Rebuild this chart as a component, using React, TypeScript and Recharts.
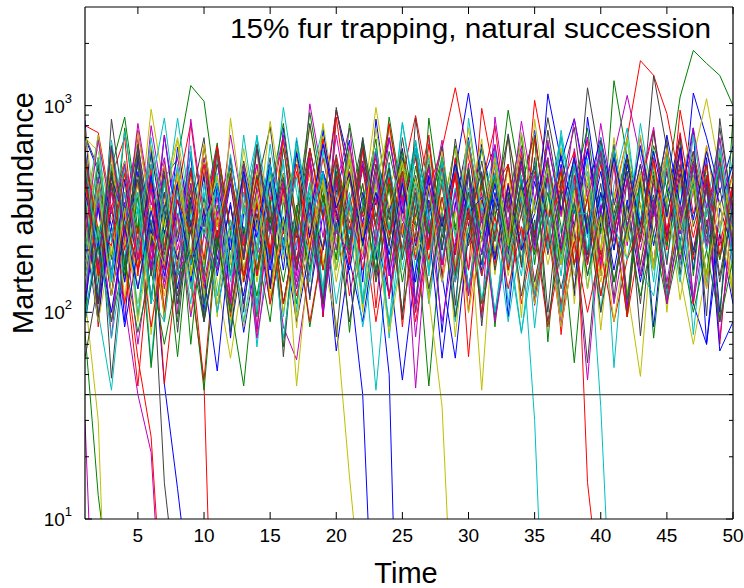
import React from 'react';
import { LineChart, Line, XAxis, YAxis, ReferenceLine } from 'recharts';

const BLUE = '#0000FF', GREEN = '#008000', RED = '#FF0000', CYAN = '#00BFBF', MAGENTA = '#BF00BF', YELLOW = '#BFBF00', GRAY = '#404040';

const times = Array.from({ length: 50 }, (_, i) => i + 1);
const xTicks = [5, 10, 15, 20, 25, 30, 35, 40, 45, 50];
const yTicks = [10, 20, 30, 40, 50, 60, 70, 80, 90, 100, 200, 300, 400, 500, 600, 700, 800, 900, 1000, 2000];
const yMajor = [10, 100, 1000];
const threshold = 40;

const b1 = [700,480,260,520,190,430,160,400,180,470,210,560,240,450,190,380,230,620,300,950,520,270,600,230,480,180,420,200,550,260,650,300,380,180,430,220,520,260,600,300,620,260,520,210,480,240,1150,700,380,640];
const b2 = [150,330,120,290,450,160,520,220,470,260,640,240,380,150,320,110,260,120,300,65,180,90,240,120,330,140,390,170,480,1150,420,640,250,540,230,460,200,420,180,380,160,350,140,330,120,260,110,70,240,110];
const b3 = [240,90,330,140,560,240,380,130,340,520,180,420,160,280,110,230,90,200,480,240,520,210,430,170,47,160,350,150,60,240,160,380,190,440,210,1140,540,865,390,700,330,580,260,520,230,470,200,420,65,90];
const b4 = [380,200,450,280,170,620,300,180,360,150,52,230,120,330,160,400,180,340,200,460,240,510,330,700,300,620,250,60,210,480,190,420,170,380,500,280,570,300,620,260,560,280,640,300,720,330,780,70,320,200];
const b5 = [90,220,100,260,130,310,150,350,170,280,420,200,480,230,520,250,590,290,650,320,470,220,380,190,420,210,460,260,520,300,360,180,410,200,300,650,310,560,240,480,200,520,260,600,290,620,280,600,330,520];
const b6 = [850,110,620,90,480,160,720,240,580,100,420,75,300,640,130,780,260,540,95,380,680,140,860,300,620,110,450,80,330,700,150,540,95,400,760,230,600,120,880,310,650,105,470,85,360,720,160,560,100,420];
const g1 = [320,150,500,240,520,160,450,550,1250,1050,350,500,140,360,130,290,110,340,160,420,210,500,180,400,140,330,120,310,150,380,170,460,210,540,240,470,190,400,170,380,200,520,260,640,400,1100,1850,1600,1400,1000];
const g2 = [550,230,500,880,300,54,250,61,280,120,330,150,430,200,520,68,300,925,380,180,440,210,520,250,600,270,44,240,520,230,620,280,950,410,720,72,380,170,420,190,1320,560,330,160,400,180,460,220,500,260];
const g3 = [200,420,180,520,240,600,280,420,160,42,230,110,44,200,90,350,160,420,200,480,220,520,260,600,300,660,320,560,260,480,220,460,210,500,240,540,260,57,300,640,280,560,240,480,210,440,190,400,180,380];
const g4 = [600,220,480,150,360,120,280,90,420,150,620,240,460,160,350,110,260,85,210,480,190,650,260,880,360,580,210,440,150,330,110,250,520,200,700,280,480,170,360,120,280,95,430,170,600,240,420,150,560,210];
const g5 = [100,210,90,180,80,160,70,150,200,90,230,100,260,120,290,140,330,160,370,180,820,350,160,420,200,510,240,560,250,500,220,460,200,420,190,380,170,340,150,300,140,260,120,240,110,220,100,200,90,180];
const g6 = [95,560,140,780,250,600,90,420,70,310,660,150,520,95,380,820,270,590,110,450,80,340,690,160,540,100,870,300,640,120,470,85,350,710,170,560,100,410,780,240,610,115,450,75,330,680,150,520,90,880];
const r1 = [800,740,320,540,220,480,200,420,180,360,160,330,140,300,130,270,120,240,330,950,450,300,560,240,480,220,400,620,1220,560,300,400,520,230,480,220,440,200,400,180,360,700,1650,1400,915,420,600,300,520,260];
const r2 = [260,120,380,170,44,230,100,300,140,47,250,110,330,160,420,200,480,230,560,260,640,290,380,170,450,895,400,240,480,61,350,170,420,200,1060,480,300,560,260,520,240,480,220,440,200,950,430,380,180,420];
const r3 = [420,150,580,220,760,300,520,180,390,130,290,95,230,520,200,690,270,470,160,360,120,270,90,230,480,180,650,260,450,160,970,440,330,110,250,85,200,460,170,620,250,430,150,340,110,450,180,640,260,480];
const r4 = [130,380,120,300,160,420,45,170,480,180,640,250,440,150,330,110,250,90,210,460,170,620,250,820,340,560,200,420,140,300,100,240,520,200,700,280,480,170,360,120,280,95,230,560,220,740,300,520,190,400];
const r5 = [560,250,210,470,180,400,160,350,240,520,230,480,210,440,190,400,170,620,280,560,250,500,220,450,200,400,180,360,160,320,150,290,130,260,120,240,110,220,100,200,90,180,260,540,250,500,230,460,210,420];
const r6 = [640,85,450,700,150,520,100,390,820,260,600,110,440,80,330,690,160,530,95,880,300,620,105,460,85,340,720,150,560,100,410,800,240,600,115,450,78,330,690,160,540,95,400,760,230,590,110,450,70,350];
const c1 = [240,100,42,180,380,57,300,870,320,160,380,180,440,68,250,980,380,180,420,200,470,230,42,210,830,350,160,360,170,400,190,440,210,79,260,500,240,540,260,580,54,330,620,290,560,260,500,230,460,210];
const c2 = [380,120,520,160,640,210,480,110,300,90,560,180,720,260,430,95,330,140,610,220,380,110,260,85,470,160,700,240,520,130,330,100,290,150,540,210,760,300,480,150,620,230,820,330,540,170,450,140,620,260];
const c3 = [160,460,120,380,95,280,140,520,190,640,230,150,380,110,300,75,220,420,130,560,200,700,260,480,160,370,110,300,90,260,150,590,220,740,310,500,180,420,130,360,250,680,280,500,180,420,120,330,240,560];
const c4 = [520,190,680,260,380,120,90,300,110,420,160,580,220,720,300,520,170,380,120,560,240,330,620,250,820,330,560,180,400,130,300,100,240,80,200,420,150,560,230,700,280,480,160,120,340,140,460,200,620,260];
const c5 = [90,260,75,190,320,110,440,150,600,230,420,140,330,100,520,210,700,280,480,160,360,110,250,90,200,420,160,560,230,680,300,470,170,360,120,300,100,520,200,640,260,180,400,140,560,200,720,290,510,180];
const c6 = [300,720,150,540,95,400,870,280,640,110,470,82,340,700,160,550,100,420,790,240,610,115,450,75,320,680,150,520,92,870,300,630,108,460,84,340,710,165,555,100,415,780,245,605,118,452,78,330,690,150];
const m1 = [180,400,160,380,170,800,320,560,240,480,210,440,190,400,170,440,200,1020,440,260,520,240,480,220,440,43,300,140,340,160,380,180,420,200,460,220,500,240,47,260,580,1120,560,300,620,280,560,260,500,230];
const m2 = [300,110,400,140,560,200,720,280,500,170,360,120,520,190,260,85,59,170,480,200,640,260,450,150,320,100,230,520,190,680,290,520,180,410,140,300,100,620,250,820,330,560,200,420,140,330,110,280,90,220];
const m3 = [120,340,90,260,70,200,140,430,170,560,220,720,310,520,180,390,130,300,100,450,180,620,260,800,330,560,210,420,140,680,280,460,160,340,110,250,85,200,400,150,520,210,700,290,500,180,390,130,470,200];
const m4 = [450,160,620,230,820,330,560,200,420,140,310,100,240,75,190,420,160,560,230,720,300,180,480,150,360,110,280,90,220,500,190,650,260,840,350,560,210,450,150,330,110,260,460,170,620,240,780,320,540,200];
const m5 = [230,680,300,520,180,400,130,300,95,240,160,460,180,620,240,430,140,330,110,250,190,540,210,700,280,200,500,170,380,120,290,90,230,520,200,680,290,860,360,600,220,440,150,350,110,270,520,210,700,280];
const m6 = [110,450,75,330,690,160,540,98,860,290,630,110,460,83,350,720,150,560,100,410,780,230,600,116,445,76,320,680,155,525,94,880,305,640,108,470,86,345,705,168,550,102,420,785,245,600,114,448,74,325];
const y1 = [700,600,280,520,240,960,400,700,300,560,260,480,220,440,200,400,180,360,170,340,160,320,980,400,620,280,540,240,480,210,440,200,400,180,360,170,330,150,300,140,280,130,49,300,620,280,560,1080,480,260];
const y2 = [90,220,100,240,110,260,120,280,130,300,140,60,160,340,180,380,44,200,420,220,460,240,500,260,540,280,580,300,620,320,42,340,680,360,500,240,460,220,420,200,380,180,340,160,300,150,70,160,260,120];
const y3 = [400,140,560,210,740,300,520,170,370,120,280,90,220,480,180,640,260,800,330,560,200,420,140,320,100,240,180,460,170,630,250,450,150,340,110,260,85,200,400,150,560,220,720,300,520,190,400,130,580,230];
const y4 = [250,720,300,530,190,400,130,300,100,230,460,170,620,250,840,340,560,200,420,140,310,105,240,80,190,440,170,600,240,780,320,520,180,390,130,300,95,250,520,200,700,280,480,160,360,115,280,640,260,460];
const y5 = [150,420,120,320,90,240,170,480,190,650,260,480,160,370,120,280,95,220,440,160,600,230,780,320,540,190,410,140,310,100,230,560,210,740,300,500,170,390,130,290,90,240,460,170,620,250,450,150,350,120];
const y6 = [780,230,600,115,450,78,330,680,150,530,95,870,300,630,108,465,84,345,710,160,550,100,415,790,240,610,114,450,76,325,690,152,520,94,860,295,625,110,460,82,340,700,165,550,100,420,780,240,600,118];
const k1 = [715,500,230,480,210,440,190,400,170,360,160,330,150,300,140,280,130,260,120,980,430,300,620,280,560,250,500,230,460,210,420,190,380,170,340,875,400,250,1220,520,300,560,260,1400,620,300,540,260,480,220];
const k2 = [200,440,48,220,460,210,480,230,500,240,520,250,540,260,560,61,300,620,290,580,270,540,250,500,230,460,210,420,190,380,170,340,160,300,140,280,130,260,57,300,560,260,520,240,480,220,440,200,400,180];
const k3 = [60,140,420,160,580,220,380,120,280,95,210,480,180,650,270,470,160,360,115,270,90,220,520,210,700,290,510,170,390,130,300,95,240,560,220,760,310,540,190,420,140,330,110,460,170,630,260,440,150,340];
const k4 = [330,110,480,170,650,260,450,150,340,110,250,80,200,460,180,620,250,820,340,560,200,420,140,320,100,240,520,200,690,280,480,160,360,120,280,90,230,510,190,680,280,480,170,370,130,290,600,240,780,310];
const k5 = [480,170,640,250,440,150,330,110,250,90,200,470,180,630,250,450,160,340,110,520,210,700,290,500,180,380,130,290,95,230,540,220,730,300,510,190,390,130,300,100,240,560,220,740,300,520,190,400,140,330];
const k6 = [520,95,860,300,620,110,460,80,340,700,160,550,100,410,790,240,600,115,450,76,330,680,150,530,92,870,300,640,108,470,86,350,715,165,560,100,418,785,242,608,116,448,77,328,688,152,522,96,866,296];

// runs that go extinct (value collapses below the axis floor, then nothing)
const e1 = [30, 0.7];
const e2 = [80, 13, 4];
const e3 = [120, 30, 0.5];
const e4 = [200, 450, 190, 110, 40, 21, 1.8];
const e5 = [350, 160, 420, 180, 60, 25, 2.5];
const e6 = [250, 520, 230, 480, 160, 250, 15, 4];
const e7 = [160, 360, 150, 340, 130, 280, 45, 14, 4];
const e8 = [500, 220, 460, 200, 420, 180, 380, 160, 200, 45, 0.3];
const e9 = [220,560,190,420,130,320,95,240,450,170,620,250,430,140,330,100,250,480,180,90,16,3.5];
const e10 = [340,110,260,85,200,460,170,630,260,450,150,340,110,260,520,200,680,270,480,300,150,40,1.26];
const e11 = [110,320,120,440,170,600,240,420,140,320,100,240,80,190,430,160,580,230,760,310,160,380,200,50,0.23];
const e12 = [270,90,210,480,170,640,260,450,150,340,110,260,85,200,460,180,620,250,820,330,540,190,420,230,300,260,120,35,1.5];
const e13 = [190,560,220,750,300,520,180,390,130,290,100,230,480,180,650,260,450,150,340,110,260,85,200,470,180,620,250,430,140,330,240,560,210,250,30,0.78];
const e14 = [440,150,330,110,260,85,210,480,180,640,260,450,150,340,110,250,520,200,690,280,480,160,360,120,270,90,220,500,190,660,270,470,160,350,120,280,400,600,15,4];
const e15 = [130,380,140,520,200,700,290,500,170,380,120,280,90,220,490,190,660,270,460,160,350,110,260,520,200,680,280,480,160,360,115,270,90,230,520,200,700,300,300,35,1.5];

const series: { id: string; color: string; values: number[] }[] = [
  { id: 'e1', color: MAGENTA, values: e1 },
  { id: 'b1', color: BLUE, values: b1 },
  { id: 'g1', color: GREEN, values: g1 },
  { id: 'e2', color: GREEN, values: e2 },
  { id: 'r1', color: RED, values: r1 },
  { id: 'c1', color: CYAN, values: c1 },
  { id: 'e3', color: YELLOW, values: e3 },
  { id: 'm1', color: MAGENTA, values: m1 },
  { id: 'y1', color: YELLOW, values: y1 },
  { id: 'k1', color: GRAY, values: k1 },
  { id: 'b6', color: BLUE, values: b6 },
  { id: 'e4', color: MAGENTA, values: e4 },
  { id: 'b2', color: BLUE, values: b2 },
  { id: 'g2', color: GREEN, values: g2 },
  { id: 'e5', color: RED, values: e5 },
  { id: 'r2', color: RED, values: r2 },
  { id: 'g6', color: GREEN, values: g6 },
  { id: 'c2', color: CYAN, values: c2 },
  { id: 'e6', color: GRAY, values: e6 },
  { id: 'm2', color: MAGENTA, values: m2 },
  { id: 'y2', color: YELLOW, values: y2 },
  { id: 'r6', color: RED, values: r6 },
  { id: 'e7', color: BLUE, values: e7 },
  { id: 'k2', color: GRAY, values: k2 },
  { id: 'b3', color: BLUE, values: b3 },
  { id: 'e8', color: RED, values: e8 },
  { id: 'g3', color: GREEN, values: g3 },
  { id: 'c6', color: CYAN, values: c6 },
  { id: 'r3', color: RED, values: r3 },
  { id: 'e9', color: YELLOW, values: e9 },
  { id: 'c3', color: CYAN, values: c3 },
  { id: 'm3', color: MAGENTA, values: m3 },
  { id: 'm6', color: MAGENTA, values: m6 },
  { id: 'e10', color: BLUE, values: e10 },
  { id: 'y3', color: YELLOW, values: y3 },
  { id: 'k3', color: GRAY, values: k3 },
  { id: 'e11', color: BLUE, values: e11 },
  { id: 'y6', color: YELLOW, values: y6 },
  { id: 'b4', color: BLUE, values: b4 },
  { id: 'g4', color: GREEN, values: g4 },
  { id: 'e12', color: YELLOW, values: e12 },
  { id: 'r4', color: RED, values: r4 },
  { id: 'k6', color: GRAY, values: k6 },
  { id: 'c4', color: CYAN, values: c4 },
  { id: 'e13', color: CYAN, values: e13 },
  { id: 'm4', color: MAGENTA, values: m4 },
  { id: 'y4', color: YELLOW, values: y4 },
  { id: 'e14', color: RED, values: e14 },
  { id: 'k4', color: GRAY, values: k4 },
  { id: 'b5', color: BLUE, values: b5 },
  { id: 'e15', color: CYAN, values: e15 },
  { id: 'g5', color: GREEN, values: g5 },
  { id: 'r5', color: RED, values: r5 },
  { id: 'c5', color: CYAN, values: c5 },
  { id: 'm5', color: MAGENTA, values: m5 },
  { id: 'y5', color: YELLOW, values: y5 },
  { id: 'k5', color: GRAY, values: k5 },
];

const data = times.map((t, i) => {
  const row: Record<string, number | null> = { t };
  series.forEach((s) => {
    row[s.id] = i < s.values.length ? s.values[i] : null;
  });
  return row;
});

const FONT = '"Liberation Sans", Arial, Helvetica, sans-serif';

const LeftTick = (props: any) => {
  const { x, y, payload } = props;
  const v = payload.value;
  const major = yMajor.includes(v);
  const len = major ? 7 : 4;
  return (
    <g>
      <line x1={x} y1={y} x2={x + len} y2={y} stroke="#000" strokeWidth={1} />
      {major && (
        <text x={x - 13} y={y + 7} textAnchor="end" fontSize={19} fontFamily={FONT} fill="#000">
          10<tspan dy={-10} fontSize={13}>{Math.round(Math.log10(v))}</tspan>
        </text>
      )}
    </g>
  );
};

const RightTick = (props: any) => {
  const { x, y, payload } = props;
  const major = yMajor.includes(payload.value);
  const len = major ? 7 : 4;
  return <line x1={x} y1={y} x2={x - len} y2={y} stroke="#000" strokeWidth={1} />;
};

const BottomTick = (props: any) => {
  const { x, y, payload } = props;
  return (
    <g>
      <line x1={x} y1={y} x2={x} y2={y - 7} stroke="#000" strokeWidth={1} />
      <text x={x} y={y + 23} textAnchor="middle" fontSize={19} fontFamily={FONT} fill="#000">
        {payload.value}
      </text>
    </g>
  );
};

const TopTick = (props: any) => {
  const { x, y } = props;
  return <line x1={x} y1={y} x2={x} y2={y + 7} stroke="#000" strokeWidth={1} />;
};

export default function App() {
  return (
    <div style={{ position: 'absolute', left: 0, top: 0, background: '#fff' }}>
      <LineChart width={744} height={588} data={data} margin={{ top: 0, right: 0, bottom: 0, left: 0 }}>
        <XAxis
          xAxisId="bottom"
          dataKey="t"
          type="number"
          domain={[1, 50]}
          ticks={xTicks}
          interval={0}
          height={69}
          tickSize={0}
          tickMargin={0}
          tickLine={false}
          axisLine={{ stroke: '#000', strokeWidth: 1.2 }}
          tick={<BottomTick />}
          allowDataOverflow
        />
        <XAxis
          xAxisId="top"
          orientation="top"
          dataKey="t"
          type="number"
          domain={[1, 50]}
          ticks={xTicks}
          interval={0}
          height={7}
          tickSize={0}
          tickMargin={0}
          tickLine={false}
          axisLine={{ stroke: '#000', strokeWidth: 1.2 }}
          tick={<TopTick />}
          allowDataOverflow
        />
        <YAxis
          yAxisId="left"
          scale="log"
          type="number"
          domain={[10, 3000]}
          ticks={yTicks}
          interval={0}
          width={85}
          tickSize={0}
          tickMargin={0}
          tickLine={false}
          axisLine={{ stroke: '#000', strokeWidth: 1.2 }}
          tick={<LeftTick />}
          allowDataOverflow
        />
        <YAxis
          yAxisId="right"
          orientation="right"
          scale="log"
          type="number"
          domain={[10, 3000]}
          ticks={yTicks}
          interval={0}
          width={11}
          tickSize={0}
          tickMargin={0}
          tickLine={false}
          axisLine={{ stroke: '#000', strokeWidth: 1.2 }}
          tick={<RightTick />}
          allowDataOverflow
        />
        {series.map((s) => (
          <Line
            key={s.id}
            xAxisId="bottom"
            yAxisId="left"
            dataKey={s.id}
            type="linear"
            stroke={s.color}
            strokeWidth={1}
            dot={false}
            activeDot={false}
            isAnimationActive={false}
            connectNulls={false}
          />
        ))}
        <ReferenceLine xAxisId="bottom" yAxisId="left" y={threshold} stroke="#505050" strokeWidth={1.3} />
        <text x={230} y={38} fontSize={27} textLength={481} lengthAdjust="spacingAndGlyphs" fontFamily={FONT} fill="#000">
          15% fur trapping, natural succession
        </text>
        <text x={406} y={583} textAnchor="middle" fontSize={29} fontFamily={FONT} fill="#000">
          Time
        </text>
        <text x={33} y={213} transform="rotate(-90 33 213)" textAnchor="middle" fontSize={29} fontFamily={FONT} fill="#000">
          Marten abundance
        </text>
      </LineChart>
    </div>
  );
}
